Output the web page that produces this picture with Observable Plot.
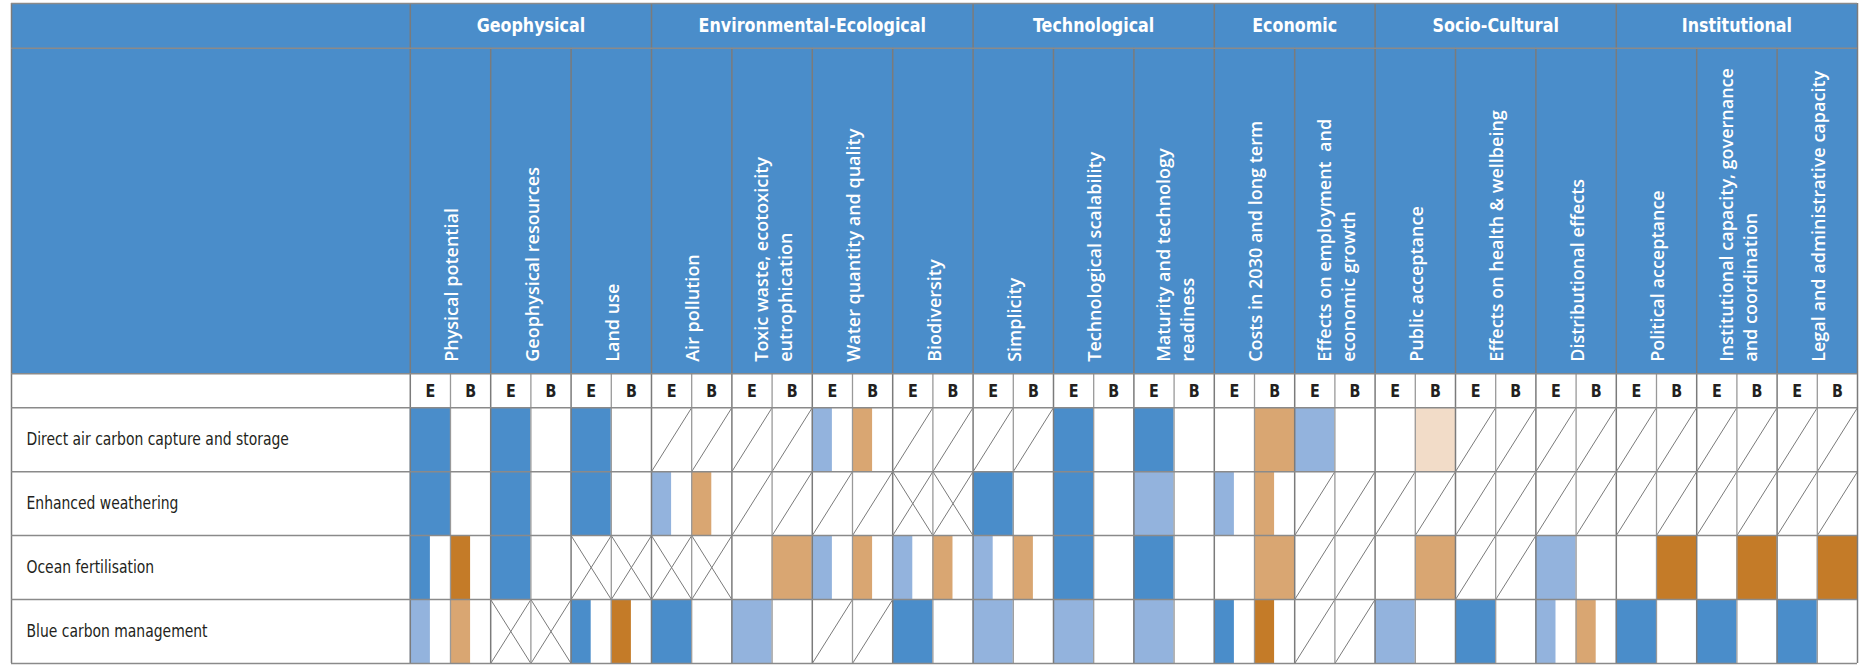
<!DOCTYPE html>
<html>
<head>
<meta charset="utf-8">
<script src="https://cdn.jsdelivr.net/npm/d3@7"></script>
<script src="https://cdn.jsdelivr.net/npm/@observablehq/plot@0.6"></script>
<style>
  html, body { margin: 0; padding: 0; background: #ffffff; }
  #chart svg { display: block; }
</style>
</head>
<body>
<div id="chart"></div>
<script>
// ---------------- data ----------------
const groups = ["Geophysical", "Environmental-Ecological", "Technological", "Economic", "Socio-Cultural", "Institutional"];
const groupSizes = [3, 4, 3, 2, 3, 3];
const criteria = [
  "Physical potential",
  "Geophysical resources",
  "Land use",
  "Air pollution",
  "Toxic waste, ecotoxicity\neutrophication",
  "Water quantity and quality",
  "Biodiversity",
  "Simplicity",
  "Technological scalability",
  "Maturity and technology\nreadiness",
  "Costs in 2030 and long term",
  "Effects on employment  and\neconomic growth",
  "Public acceptance",
  "Effects on health & wellbeing",
  "Distributional effects",
  "Political acceptance",
  "Institutional capacity, governance\nand coordination",
  "Legal and administrative capacity"
];
const subColumns = ["E", "B"];
const options = [
  "Direct air carbon capture and storage",
  "Enhanced weathering",
  "Ocean fertilisation",
  "Blue carbon management"
];
// codes per (criterion E, criterion B): "3","2","1" = level (full cell), "3m"/"2m" = mixed (half cell),
// "/" = diagonal, "x" = cross, "" = blank
const dacs = ["3","", "3","", "3","", "/","/", "/","/", "2m","2m", "/","/", "/","/", "3","", "3","", "","2", "2","", "","1", "/","/", "/","/", "/","/", "/","/", "/","/"];
const enhancedWeathering = ["3","", "3","", "3","", "2m","2m", "/","/", "/","/", "x","x", "3","", "3","", "2","", "2m","2m", "/","/", "/","/", "/","/", "/","/", "/","/", "/","/", "/","/"];
const oceanFertilisation = ["3m","3m", "3","", "x","x", "x","x", "","2", "2m","2m", "2m","2m", "2m","2m", "3","", "3","", "","2", "/","/", "","2", "/","/", "2","", "","3", "","3", "","3"];
const blueCarbon = ["2m","2m", "x","x", "3m","3m", "3","", "2","", "/","/", "3","", "2","", "2","", "2","", "3m","3m", "/","/", "2","", "3","", "2m","2m", "3","", "3","", "3",""];
const assessments = [dacs, enhancedWeathering, oceanFertilisation, blueCarbon];

// ---------------- layout / style ----------------
const BLUE = "#4a8dca";
const COND = "'Liberation Sans Narrow','DejaVu Sans Condensed','Roboto Condensed',sans-serif";
const LABEL_UNITS = 9.92;          // width of the label column in sub-column units
const GROUP_H = 0.7, CRIT_H = 5.09, EB_H = 0.53;   // header heights in row units
const HEAD = GROUP_H + CRIT_H + EB_H;
const TOTAL = HEAD + options.length;
const nSub = criteria.length * subColumns.length;

const cells = [];
assessments.forEach((vals, r) => vals.forEach((code, c) => cells.push({row: r, col: c, type: subColumns[c % 2], code})));
const fills = cells.filter(d => /^[123]/.test(d.code))
  .map(d => ({...d, half: d.code.endsWith("m"), key: d.type + d.code[0]}));
const hatch = [];
cells.forEach(d => {
  if (d.code === "/" || d.code === "x") hatch.push({x1: d.col, x2: d.col + 1, y1: HEAD + d.row + 1, y2: HEAD + d.row});
  if (d.code === "x") hatch.push({x1: d.col, x2: d.col + 1, y1: HEAD + d.row, y2: HEAD + d.row + 1});
});

const groupStarts = [];
groupSizes.reduce((acc, n) => { groupStarts.push(acc); return acc + n * 2; }, 0);
const groupLabels = groups.map((g, i) => ({name: g, x: groupStarts[i] + groupSizes[i]}));
const groupBounds = [...groupStarts, nSub];
const critBounds = d3.range(0, nSub, 2).filter(v => !groupBounds.includes(v));
const subBounds = d3.range(1, nSub, 2);
const ebCells = d3.range(nSub).map(c => ({c, t: subColumns[c % 2]}));
const hLines = [0, GROUP_H, GROUP_H + CRIT_H, HEAD, ...options.map((_, i) => HEAD + i + 1)];

const chart = Plot.plot({
  width: 1862,
  height: 665,
  marginLeft: 11,
  marginRight: 5,
  marginTop: 3,
  marginBottom: 2,
  x: {domain: [-LABEL_UNITS, nSub], axis: null},
  y: {domain: [0, TOTAL], reverse: true, axis: null},
  color: {domain: ["E3", "E2", "E1", "B3", "B2", "B1"],
          range: [BLUE, "#93b3dd", "#c9daf0", "#c47b28", "#d9a672", "#f2dcc8"]},
  marks: [
    // header background
    Plot.rect([0], {x1: () => -LABEL_UNITS, x2: () => nSub, y1: () => 0, y2: () => GROUP_H + CRIT_H, fill: BLUE}),
    // assessment fills
    Plot.rect(fills, {x1: d => d.col, x2: d => d.col + (d.half ? 0.5 : 1), y1: d => HEAD + d.row, y2: d => HEAD + d.row + 1, fill: "key"}),
    // diagonals
    Plot.link(hatch, {x1: "x1", y1: "y1", x2: "x2", y2: "y2", stroke: "#7a7a7a", strokeWidth: 1}),
    // grid
    Plot.ruleX(subBounds, {x: d => d, y1: () => GROUP_H + CRIT_H, y2: () => TOTAL, stroke: "#999", strokeWidth: 1.3}),
    Plot.ruleX(critBounds, {x: d => d, y1: () => GROUP_H, y2: () => TOTAL, stroke: "#7b7b7b", strokeWidth: 1.5}),
    Plot.ruleX([-LABEL_UNITS, ...groupBounds], {x: d => d, y1: () => 0, y2: () => TOTAL, stroke: "#7b7b7b", strokeWidth: 1.5}),
    Plot.ruleY(hLines, {y: d => d, x1: () => -LABEL_UNITS, x2: () => nSub, stroke: "#8a8a8a", strokeWidth: 1.5}),
    // group titles (text mark #0)
    Plot.text(groupLabels, {x: "x", y: () => GROUP_H / 2, text: "name", fill: "white", fontSize: 20, fontWeight: "bold",
      fontFamily: COND}),
    // criteria labels, rotated (text mark #1)
    Plot.text(criteria, {x: (d, i) => 2 * i + 1, y: () => GROUP_H + CRIT_H, text: d => d, rotate: -90,
      textAnchor: "start", lineAnchor: "middle", lineHeight: 1.35, dy: -12,
      fill: "white", fontSize: 18, fontWeight: 600, fontFamily: "'Open Sans',sans-serif"}),
    // E / B (text mark #2)
    Plot.text(ebCells, {x: d => d.c + 0.5, y: () => HEAD - EB_H / 2, text: "t", fill: "#231f20", fontSize: 18, fontWeight: "bold",
      fontFamily: COND}),
    // option labels (text mark #3)
    Plot.text(options, {x: () => -LABEL_UNITS, y: (d, i) => HEAD + i + 0.5, text: d => d, textAnchor: "start", dx: 15,
      fill: "#231f20", fontSize: 17.5, fontFamily: COND})
  ]
});
// emulate the condensed typeface of the original by narrowing glyphs horizontally
const textGroups = chart.querySelectorAll('g[aria-label="text"]');
[0, 2, 3].forEach(k => {
  if (!textGroups[k]) return;
  textGroups[k].querySelectorAll("text").forEach(el => {
    const t = el.getAttribute("transform") || "";
    el.setAttribute("transform", t + " scale(0.885,1)");
  });
});
document.getElementById("chart").append(chart);
</script>
</body>
</html>
